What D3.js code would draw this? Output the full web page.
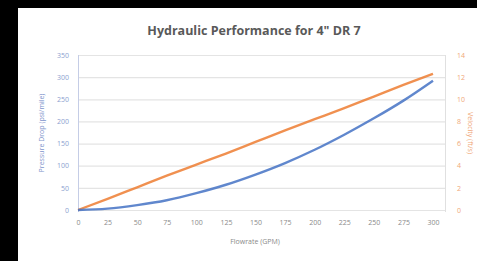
<!DOCTYPE html>
<html><head><meta charset="utf-8">
<script src="https://cdn.jsdelivr.net/npm/d3@7"></script>
<style>
html,body{margin:0;padding:0;background:#000;}
svg{display:block;}
text{font-family:"Open Sans","Liberation Sans",sans-serif;}
</style></head>
<body>
<svg id="chart" width="477" height="261"></svg>
<script>
const title = 'Hydraulic Performance for 4" DR 7';
const flowrate = [0, 25, 50, 75, 100, 125, 150, 175, 200, 225, 250, 275, 300];
const pressureDrop = [0, 3, 11, 22, 38, 57, 80, 106, 136, 170, 207, 247, 292];
const velocity = [0, 1.0, 2.05, 3.1, 4.1, 5.1, 6.15, 7.2, 8.2, 9.2, 10.25, 11.3, 12.3];
const xTicks = [0, 25, 50, 75, 100, 125, 150, 175, 200, 225, 250, 275, 300];
const yLeftTicks = [0, 50, 100, 150, 200, 250, 300, 350];
const yRightTicks = [0, 2, 4, 6, 8, 10, 12, 14];
const xTitle = "Flowrate (GPM)";
const yLeftTitle = "Pressure Drop (psi/mile)";
const yRightTitle = "Velocity (ft/s)";

const svg = d3.select("#chart");
svg.append("rect").attr("x",18).attr("y",8).attr("width",459).attr("height",253).attr("fill","#fff");

const x = d3.scaleLinear().domain([0,300]).range([78,433]);
const yL = d3.scaleLinear().domain([0,350]).range([210,55]);
const yR = d3.scaleLinear().domain([0,14]).range([210,55]);

// gridlines
svg.append("g").selectAll("line").data(yLeftTicks).join("line")
  .attr("x1",78).attr("x2",445)
  .attr("y1",d=>yL(d)+0.5).attr("y2",d=>yL(d)+0.5)
  .attr("stroke","#e4e4e4").attr("stroke-width",1.2);
// right border of plot
svg.append("line").attr("x1",445.5).attr("x2",445.5).attr("y1",55).attr("y2",212)
  .attr("stroke","#e0e0e0").attr("stroke-width",1);
// left axis line
svg.append("line").attr("x1",78.5).attr("x2",78.5).attr("y1",55).attr("y2",212)
  .attr("stroke","#c5cde6").attr("stroke-width",1);

// axes
const axL = svg.append("g").attr("transform","translate(78,0)")
  .call(d3.axisLeft(yL).tickValues(yLeftTicks).tickSize(0).tickPadding(9));
axL.select(".domain").remove();
axL.selectAll("text").attr("fill","#8c9fcf").attr("font-size",7);

const axR = svg.append("g").attr("transform","translate(445,0)")
  .call(d3.axisRight(yR).tickValues(yRightTicks).tickSize(0).tickPadding(12));
axR.select(".domain").remove();
axR.selectAll("text").attr("fill","#f0a878").attr("font-size",7);

const axX = svg.append("g").attr("transform","translate(0,210)")
  .call(d3.axisBottom(x).tickValues(xTicks).tickSize(0).tickPadding(10));
axX.select(".domain").remove();
axX.selectAll("text").attr("fill","#8a8a8a").attr("font-size",7);

// lines
const idx = d3.range(flowrate.length);
svg.append("path").datum(idx)
  .attr("fill","none").attr("stroke","#ed7d31").attr("stroke-width",2.4).attr("stroke-opacity",0.85)
  .attr("d", d3.line().x(i=>x(flowrate[i])).y(i=>yR(velocity[i])).curve(d3.curveMonotoneX));
svg.append("path").datum(idx)
  .attr("fill","none").attr("stroke","#4472c4").attr("stroke-width",2.4).attr("stroke-opacity",0.85)
  .attr("d", d3.line().x(i=>x(flowrate[i])).y(i=>yL(pressureDrop[i])).curve(d3.curveMonotoneX));

// titles
svg.append("text").attr("x",254).attr("y",35).attr("text-anchor","middle")
  .attr("font-size",12.5).attr("font-weight","bold").attr("fill","#595959").text(title);
svg.append("text").attr("x",255).attr("y",244).attr("text-anchor","middle")
  .attr("font-size",7).attr("fill","#8a8a8a").text(xTitle);
svg.append("text").attr("transform","translate(44,133) rotate(-90)").attr("text-anchor","middle")
  .attr("font-size",7).attr("fill","#7f95cc").text(yLeftTitle);
svg.append("text").attr("transform","translate(468,133) rotate(90)").attr("text-anchor","middle")
  .attr("font-size",7).attr("fill","#f0a878").text(yRightTitle);
</script>
</body></html>
